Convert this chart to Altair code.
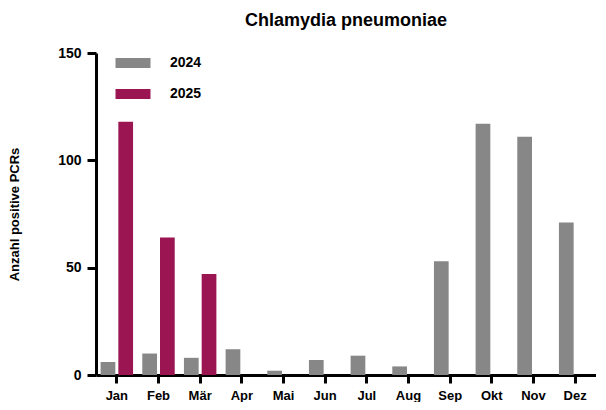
import altair as alt
import pandas as pd

months = ["Jan", "Feb", "Mär", "Apr", "Mai", "Jun", "Jul", "Aug", "Sep", "Okt", "Nov", "Dez"]
values_2024 = [6, 10, 8, 12, 2, 7, 9, 4, 53, 117, 111, 71]
values_2025 = [118, 64, 47]
years = ["2024", "2025"]
colors = ["#878787", "#9B1553"]

rows = []
for m, v in zip(months, values_2024):
    rows.append({"Monat": m, "Jahr": "2024", "Wert": v})
for m, v in zip(months, values_2025):
    rows.append({"Monat": m, "Jahr": "2025", "Wert": v})
df = pd.DataFrame(rows)

FONT = "Liberation Sans"

chart = alt.Chart(df).mark_bar().encode(
    x=alt.X("Monat:N", sort=months,
            scale=alt.Scale(paddingInner=0, paddingOuter=0),
            axis=alt.Axis(title=None, labelAngle=0, labelFont=FONT, labelFontWeight="bold",
                          labelFontSize=13, labelColor="black", labelPadding=6,
                          domainColor="black", domainWidth=3, tickColor="black",
                          tickWidth=3, tickSize=8)),
    xOffset=alt.XOffset("Jahr:N", sort=years,
                        scale=alt.Scale(paddingInner=0.17, paddingOuter=0.26)),
    y=alt.Y("Wert:Q", scale=alt.Scale(domain=[0, 150], nice=False),
            axis=alt.Axis(title="Anzahl positive PCRs", values=[0, 50, 100, 150],
                          grid=False, titleFont=FONT, titleFontWeight="bold",
                          titleFontSize=13, titleColor="black", titlePadding=36,
                          labelFont=FONT, labelFontWeight="bold", labelFontSize=14,
                          labelColor="black", labelPadding=6,
                          domainColor="black", domainWidth=3, tickColor="black",
                          tickWidth=3, tickSize=9)),
    color=alt.Color("Jahr:N", sort=years,
                    scale=alt.Scale(domain=years, range=colors),
                    legend=alt.Legend(title=None, orient="none", legendX=25, legendY=-2,
                                      symbolType="M-1.5,-0.43L1.5,-0.43L1.5,0.43L-1.5,0.43Z",
                                      symbolSize=544, symbolStrokeWidth=0,
                                      labelFont=FONT, labelFontWeight="bold",
                                      labelFontSize=14, labelColor="black",
                                      labelOffset=25, rowPadding=12, padding=0)),
).properties(
    width=500,
    height=322,
    padding={"left": 0, "top": 4, "right": 0, "bottom": 0},
    title=alt.TitleParams("Chlamydia pneumoniae", font=FONT, fontWeight="bold",
                          fontSize=18, color="black", offset=16),
).configure_view(stroke=None)

chart.save("out.html", embed_options={"renderer": "svg", "actions": False})
